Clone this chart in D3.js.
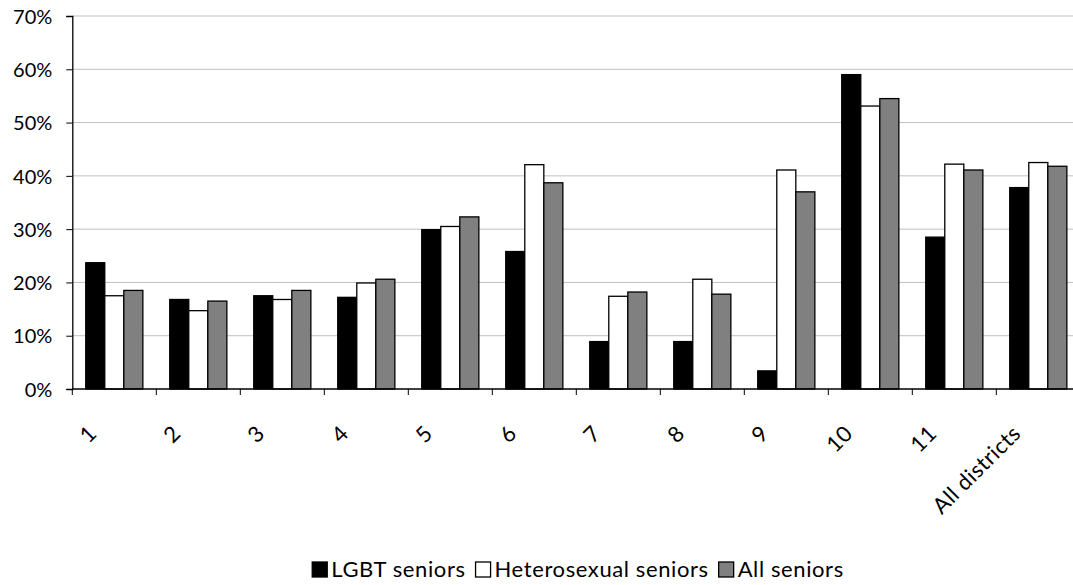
<!DOCTYPE html>
<html><head><meta charset="utf-8">
<script src="https://cdn.jsdelivr.net/npm/d3@7"></script>
<style>body{margin:0;background:#fff}svg{display:block}text{font-family:Lato,"Open Sans",sans-serif;fill:#000}</style>
</head><body><svg id="c" width="1073" height="585"></svg>
<script>
const categories = ["1","2","3","4","5","6","7","8","9","10","11","All districts"];
const seriesNames = ["LGBT seniors","Heterosexual seniors","All seniors"];
const lgbt = [23.7,16.8,17.5,17.2,29.9,25.8,8.9,8.9,3.4,59.0,28.5,37.8];
const hetero = [17.5,14.7,16.8,19.9,30.5,42.1,17.4,20.6,41.1,53.1,42.2,42.5];
const all = [18.5,16.5,18.5,20.6,32.3,38.7,18.2,17.8,37.0,54.5,41.1,41.8];
const yTicks = [0,10,20,30,40,50,60,70];
const colors = ["#000000","#ffffff","#808080"];

const svg = d3.select("#c");
const L = 72.3, R = 1080.3, T = 16, B = 389;
const x = d3.scaleBand().domain(categories).range([L, R]).paddingInner(0.32).paddingOuter(0.16);
const xTick = d3.scaleBand().domain(categories).range([L, R]);
const x1 = d3.scaleBand().domain(seriesNames).range([0, x.bandwidth()]);
const y = d3.scaleLinear().domain([0,70]).range([B, T]);

// gridlines
svg.append("g").selectAll("line").data(yTicks.slice(1)).join("line")
  .attr("x1", L).attr("x2", R).attr("y1", d=>y(d)).attr("y2", d=>y(d))
  .attr("stroke", "#c0c0c0").attr("stroke-width", 1);

// bars
const data = [lgbt, hetero, all];
const g = svg.append("g");
seriesNames.forEach((s, si) => {
  g.selectAll(null).data(categories).join("rect")
    .attr("x", (c)=> x(c) + x1(s))
    .attr("width", x1.bandwidth())
    .attr("y", (c,i)=> y(data[si][i]))
    .attr("height", (c,i)=> B - y(data[si][i]))
    .attr("fill", colors[si]).attr("stroke", "#000").attr("stroke-width", 1.3);
});

// y axis
const yAxis = d3.axisLeft(y).tickValues(yTicks).tickFormat(d=>d+"%").tickSize(6).tickPadding(14);
const ya = svg.append("g").attr("transform", `translate(${L},0)`).call(yAxis);
ya.select(".domain").attr("stroke", "#000").attr("stroke-width", 1.3);
ya.selectAll(".tick line").attr("stroke", "#000");
ya.selectAll("text").style("font-size", "20px").style("font-family", "Lato, sans-serif").attr("dy", "0.36em");

// x axis
const xa = svg.append("g").attr("transform", `translate(0,${B})`);
xa.append("line").attr("x1", L).attr("x2", R).attr("stroke", "#000").attr("stroke-width", 1.3);
xa.selectAll("line.tk").data(categories.concat(["__end"])).join("line").attr("class","tk")
  .attr("x1", (d,i)=> L + i*xTick.step()).attr("x2", (d,i)=> L + i*xTick.step())
  .attr("y1", 0).attr("y2", 6).attr("stroke", "#000");
xa.selectAll("text").data(categories).join("text")
  .attr("transform", d => `translate(${x(d) + x.bandwidth()/2 - 27},${35}) rotate(-45)`)
  .attr("text-anchor", "end").attr("dy", "0.7em")
  .style("font-size", "22px").style("letter-spacing", "0.5px").text(d=>d);

// legend
const lg = svg.append("g");
const items = lg.selectAll("g").data(seriesNames).join("g");
items.append("rect").attr("width", 15).attr("height", 15).attr("y", -15)
  .attr("fill", (d,i)=>colors[i]).attr("stroke", "#000").attr("stroke-width", 1.3);
items.append("text").attr("x", 19).attr("y", 0).style("font-size", "22px").style("letter-spacing", "0.6px").text(d=>d);
let cx = 0;
items.each(function(){ d3.select(this).attr("transform", `translate(${cx},0)`); cx += this.getBBox().width + 10; });
const totalW = cx - 10;
lg.attr("transform", `translate(${(313+843)/2 - totalW/2},577)`);
</script></body></html>
